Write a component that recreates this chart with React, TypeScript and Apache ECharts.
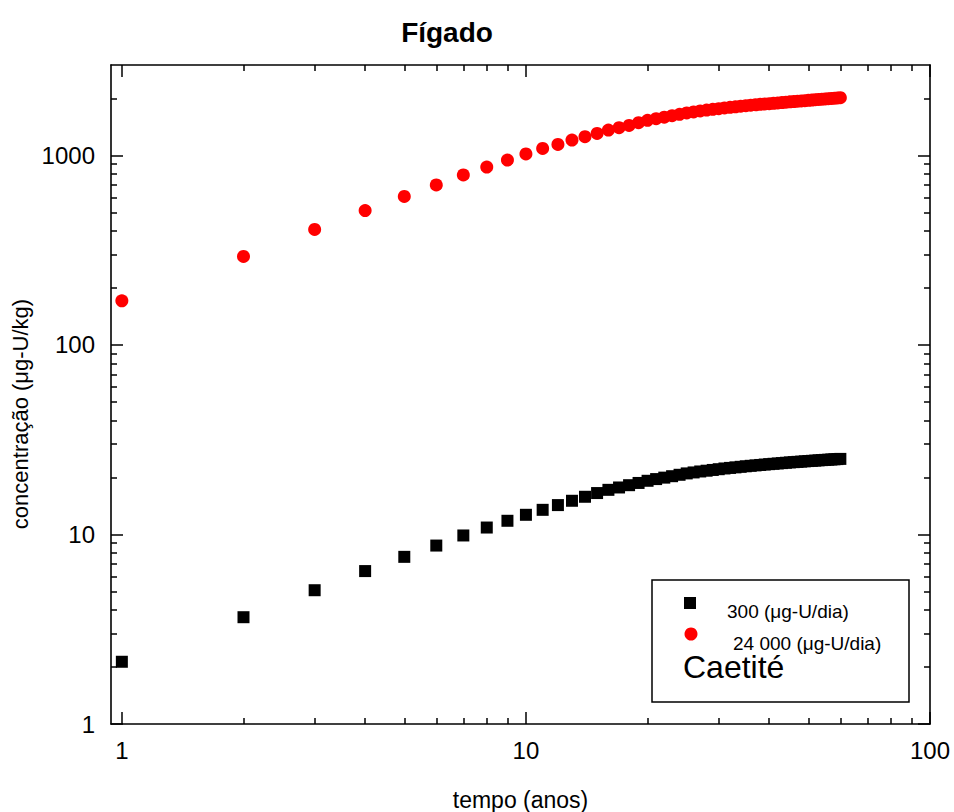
import React, { useEffect, useRef } from "react";
import * as echarts from "echarts";

const years: number[] = Array.from({ length: 60 }, (_, i) => i + 1);

const dose300: number[] = [
  2.13, 3.66, 5.08, 6.41, 7.62, 8.74, 9.88, 10.88, 11.81, 12.7,
  13.49, 14.29, 15.06, 15.81, 16.54, 17.2, 17.7, 18.2, 18.7, 19.2,
  19.6, 19.95, 20.3, 20.65, 21.0, 21.25, 21.5, 21.7, 21.9, 22.1,
  22.3, 22.45, 22.6, 22.75, 22.9, 23.03, 23.15, 23.27, 23.39, 23.5,
  23.6, 23.7, 23.8, 23.9, 24.0, 24.08, 24.16, 24.24, 24.32, 24.4,
  24.47, 24.54, 24.61, 24.68, 24.75, 24.81, 24.87, 24.93, 24.99, 25.05,
];

const dose24000: number[] = [
  171, 293, 407, 512, 608, 699, 789, 868, 945, 1018,
  1089, 1143, 1205, 1256, 1306, 1361, 1401, 1440, 1488, 1531,
  1562, 1592, 1620, 1648, 1675, 1697, 1716, 1734, 1750, 1765,
  1780, 1793, 1806, 1818, 1830, 1841, 1851, 1860, 1868, 1876,
  1885, 1893, 1901, 1909, 1917, 1925, 1932, 1939, 1946, 1953,
  1960, 1967, 1973, 1980, 1986, 1992, 1998, 2004, 2010, 2016,
];

const xMajor: number[] = [1, 10, 100];
const xMinor: number[] = [2, 3, 4, 5, 6, 7, 8, 9, 20, 30, 40, 50, 60, 70, 80, 90];
const yMajor: number[] = [1, 10, 100, 1000];
const yMinor: number[] = [
  2, 3, 4, 5, 6, 7, 8, 9, 20, 30, 40, 50, 60, 70, 80, 90,
  200, 300, 400, 500, 600, 700, 800, 900, 2000,
];

const seriesNames: string[] = ["300 (μg-U/dia)", "24 000 (μg-U/dia)"];
const FONT = "Liberation Sans, Arial, sans-serif";

export default function App() {
  const ref = useRef<HTMLDivElement>(null);
  useEffect(() => {
    if (!ref.current) return;
    const chart = echarts.init(ref.current, undefined, { renderer: "svg" });
    const line = { show: true, lineStyle: { color: "#000", width: 1.6 } };
    const fmt = (v: number) => String(Math.round(v));
    const mkX = (pos: string, major: boolean, labels: boolean, extra: any = {}) => ({
      type: "log",
      logBase: 10,
      min: 0.94,
      max: 100,
      position: pos,
      axisLine: major ? line : { show: false },
      axisTick: {
        show: true,
        inside: true,
        length: major ? 12 : 6,
        customValues: major ? xMajor : xMinor,
        lineStyle: { color: "#000", width: 1.5 },
      },
      axisLabel: labels
        ? {
            show: true,
            customValues: xMajor,
            formatter: fmt,
            fontSize: 24,
            color: "#000",
            fontFamily: FONT,
            margin: 14,
          }
        : { show: false },
      splitLine: { show: false },
      ...extra,
    });
    const mkY = (pos: string, major: boolean, labels: boolean, extra: any = {}) => ({
      type: "log",
      logBase: 10,
      min: 1,
      max: 3000,
      position: pos,
      axisLine: major ? line : { show: false },
      axisTick: {
        show: true,
        inside: true,
        length: major ? 12 : 6,
        customValues: major ? yMajor : yMinor,
        lineStyle: { color: "#000", width: 1.5 },
      },
      axisLabel: labels
        ? {
            show: true,
            customValues: yMajor,
            formatter: fmt,
            fontSize: 24,
            color: "#000",
            fontFamily: FONT,
            margin: 16,
          }
        : { show: false },
      splitLine: { show: false },
      ...extra,
    });

    chart.setOption({
      animation: false,
      backgroundColor: "#fff",
      title: {
        text: "Fígado",
        left: 442,
        top: 13,
        textAlign: "center",
        textStyle: { fontSize: 28, fontWeight: "bold", color: "#000", fontFamily: FONT },
      },
      grid: {
        left: 111,
        right: 24,
        top: 65,
        bottom: 88,
        containLabel: false,
        outerBoundsMode: "none",
      },
      xAxis: [
        mkX("bottom", true, true, {
          name: "tempo (anos)",
          nameLocation: "middle",
          nameGap: 64,
          nameTextStyle: { fontSize: 23, color: "#000", fontFamily: FONT },
        }),
        mkX("bottom", false, false),
        mkX("top", true, false),
        mkX("top", false, false),
      ],
      yAxis: [
        mkY("left", true, true),
        mkY("left", false, false),
        mkY("right", true, false),
        mkY("right", false, false),
      ],
      legend: {
        orient: "vertical",
        left: 684,
        top: 602,
        padding: 0,
        itemWidth: 12,
        itemHeight: 12,
        itemGap: 13,
        selectedMode: false,
        data: [
          {
            name: seriesNames[0],
            icon: "rect",
            itemStyle: { opacity: 0 },
            textStyle: { padding: [0, 0, 0, 26] },
          },
          {
            name: seriesNames[1],
            icon: "circle",
            itemStyle: { opacity: 0 },
            textStyle: { padding: [0, 0, 0, 32] },
          },
        ],
        textStyle: { fontSize: 19, color: "#000", fontFamily: FONT },
      },
      graphic: [
        {
          type: "rect",
          shape: { x: 652, y: 580, width: 257, height: 122 },
          style: { fill: "none", stroke: "#000", lineWidth: 1.5 },
          z: 10,
        },
        {
          type: "rect",
          shape: { x: 684, y: 597, width: 12, height: 12 },
          style: { fill: "#000" },
          z: 10,
        },
        {
          type: "circle",
          shape: { cx: 691, cy: 634, r: 6.5 },
          style: { fill: "#ff0000" },
          z: 10,
        },
        {
          type: "text",
          x: 683,
          y: 667,
          style: {
            text: "Caetité",
            fontSize: 32,
            fontFamily: FONT,
            fill: "#000",
            verticalAlign: "middle",
          },
          z: 10,
        },
        {
          type: "text",
          x: 20,
          y: 414,
          rotation: Math.PI / 2,
          style: {
            text: "concentração (μg-U/kg)",
            fontSize: 22,
            fontFamily: FONT,
            fill: "#000",
            align: "center",
            verticalAlign: "middle",
          },
        },
      ],
      series: [
        {
          name: seriesNames[0],
          type: "scatter",
          xAxisIndex: 0,
          yAxisIndex: 0,
          symbol: "rect",
          symbolSize: 12,
          itemStyle: { color: "#000", opacity: 1 },
          data: years.map((x, i) => [x, dose300[i]]),
        },
        {
          name: seriesNames[1],
          type: "scatter",
          xAxisIndex: 0,
          yAxisIndex: 0,
          symbol: "circle",
          symbolSize: 13,
          itemStyle: { color: "#ff0000", opacity: 1 },
          data: years.map((x, i) => [x, dose24000[i]]),
        },
      ],
    });
    return () => chart.dispose();
  }, []);
  return (
    <div
      ref={ref}
      style={{ position: "absolute", left: 0, top: 0, width: 954, height: 812 }}
    />
  );
}
